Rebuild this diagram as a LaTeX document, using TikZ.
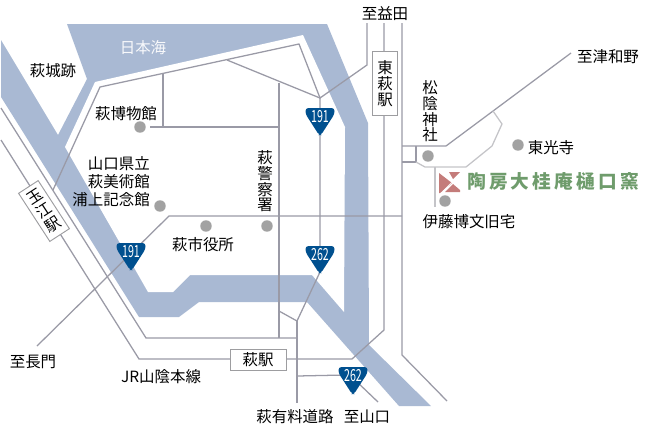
\documentclass[tikz,border=0pt]{standalone}
\usepackage{fontspec}
\setmainfont{Noto Sans CJK JP}
\newfontfamily\logofont[LetterSpace=17]{Noto Sans CJK JP}
\usepackage{tikz}
\usetikzlibrary{positioning}

\definecolor{water}{HTML}{A9B9D3}
\definecolor{roadgray}{HTML}{9A9AA6}
\definecolor{paleroad}{HTML}{C4C4C8}
\definecolor{signblue}{HTML}{00508F}
\definecolor{spotgray}{HTML}{A2A2A2}
\definecolor{logogreen}{HTML}{6F9C6C}
\definecolor{logored}{HTML}{C47C7A}

\tikzstyle{road} = [draw=roadgray, line width=0.95pt]
\tikzstyle{pale} = [draw=paleroad, line width=0.95pt]
\tikzstyle{label} = [inner sep=0pt, yshift=-1.1pt, font=\fontsize{11.6}{13.5}\selectfont]
\tikzstyle{upright} = [label, align=center, font=\fontsize{11.6}{11.8}\selectfont]
\tikzstyle{station} = [draw=paleroad!80!black, fill=white, line width=0.7pt, inner sep=0pt, align=center, font=\fontsize{11.6}{11.8}\selectfont]
\tikzstyle{spot} = [circle, fill=spotgray, minimum size=8.6pt, inner sep=0pt]
\tikzstyle{number} = [inner sep=0pt, text=white, xscale=0.64, font=\fontsize{12.5}{13}\selectfont]

\newcommand{\routesign}[4]{
	\fill [signblue, rounded corners=2.2pt] (#2-14.5, #3) -- (#2+14.5, #3) -- (#2+14.5, #3+6) -- (#2+1, #3+27) -- (#2-1, #3+27) -- (#2-14.5, #3+6) -- cycle;
	\node (#1) [number] at (#2, #3+9) {#4};
}

\begin{document}
\begin{tikzpicture}[x=0.75pt, y=-0.75pt]
	\useasboundingbox (0, 0) rectangle (645, 426);

	\fill [water] (67, 24) -- (327, 24) -- (368, 123) -- (369, 345) -- (431, 406) -- (399, 406) -- (307, 302) -- (199, 302) -- (179, 317) -- (139, 317) -- (1, 97) -- (1, 40) -- (58, 135) -- (87, 79) -- cycle;
	\fill [white] (95, 82) -- (303, 35) -- (345, 127) -- (344, 312) -- (312, 275) -- (190, 275) -- (173, 292) -- (148, 292) -- (65, 147) -- cycle;

	\coordinate (Coast) at (299, 44);
	\coordinate (North) at (320, 98);
	\coordinate (Cross) at (297, 321);
	\coordinate (Fork) at (227, 60);
	\coordinate (Bend) at (169, 216);

	\draw [road] (53, 190) -- (100, 87) -- (Coast) -- (North) -- (367, 65) -- (367, 23);
	\draw [road] (Fork) -- (North) -- (320, 246);
	\draw [road] (163, 74) -- (163, 127);
	\draw [road] (150, 127) -- (279, 127);
	\draw [road] (279, 83) -- (279, 338);
	\draw [road] (37, 346) -- (Bend) -- (402, 216);
	\draw [road] (1, 108) -- (146, 338) -- (297, 338);
	\draw [road] (1, 140) -- (139, 359) -- (352, 359) -- (384, 330) -- (384, 23);
	\draw [road] (402, 23) -- (402, 355) -- (447, 401);
	\draw [road] (279, 311) -- (Cross) -- (320, 272);
	\draw [road] (Cross) -- (297, 403);
	\draw [road] (297, 376) -- (345, 375);
	\draw [road] (355, 380) -- (378, 402);
	\draw [road] (402, 146) -- (446, 146) -- (571, 53);
	\draw [road] (402, 162) -- (416, 162) -- (416, 146);
	\draw [pale] (416, 162) -- (425, 167) -- (466, 167) -- (492, 146) -- (502, 124) -- (493, 111);
	\draw [pale] (435, 167) -- (435, 207);

	\node (Museum) [spot] at (140, 127) {};
	\node (Art) [spot] at (160, 206) {};
	\node (CityHall) [spot] at (206, 226) {};
	\node (Police) [spot] at (267, 226) {};
	\node (Shoin) [spot] at (428, 156) {};
	\node (Toko) [spot] at (518, 145) {};
	\node (Ito) [spot] at (445, 201) {};

	\routesign{SignA}{320}{108}{191}
	\routesign{SignB}{131}{243}{191}
	\routesign{SignC}{320}{246}{262}
	\routesign{SignD}{353}{367}{262}

	\node (Sea) [label, text=white!92!water] at (143, 46) {日本海};
	\node (Castle) [label] at (53, 69) {萩城跡};
	\node (MuseumText) [label] at (126, 112) {萩博物館};
	\node (ArtText) [label, align=right, anchor=east] at (150, 180) {山口県立\\萩美術館\\浦上記念館};
	\node (PoliceText) [upright] at (265, 180) {萩\\警\\察\\署};
	\node (CityText) [label] at (203, 243) {萩市役所};
	\node (ShoinText) [upright] at (430, 110) {松\\陰\\神\\社};
	\node (TokoText) [label] at (551, 146) {東光寺};
	\node (ItoText) [label] at (469, 220) {伊藤博文旧宅};
	\node (Masuda) [label] at (385, 12) {至益田};
	\node (Tsuwano) [label] at (608, 55) {至津和野};
	\node (Nagato) [label] at (33, 360) {至長門};
	\node (Line) [label] at (161, 375) {JR山陰本線};
	\node (Toll) [label] at (295, 415) {萩有料道路};
	\node (Yamaguchi) [label] at (367, 415) {至山口};

	\node (Higashi) [station, minimum width=19pt, minimum height=48.5pt] at (385, 83.5) {東\\萩\\駅};
	\node (Hagi) [station, minimum width=42pt, minimum height=15.8pt] at (258, 359.5) {萩駅};
	\node (Tamae) [station, rotate=33, minimum width=17.5pt, minimum height=43pt, font=\fontsize{11.6}{12.4}\selectfont] at (44, 211) {玉\\江\\駅};

	\fill [logored] (439, 173) -- (452, 183) -- (440, 193) -- (439, 193) -- cycle;
	\fill [logored] (449, 172) -- (460, 172) -- (453, 179) -- cycle;
	\fill [logored] (445, 192) -- (453, 184) -- (460, 190) -- (460, 192) -- cycle;
	\draw [white, line width=0.4pt] (443, 191) -- (452, 182);
	\node (Logo) [inner sep=0pt, anchor=west, text=logogreen, font=\logofont\bfseries\fontsize{14}{16}\selectfont] at (467, 181) {陶房大桂庵樋口窯};
\end{tikzpicture}
\end{document}
